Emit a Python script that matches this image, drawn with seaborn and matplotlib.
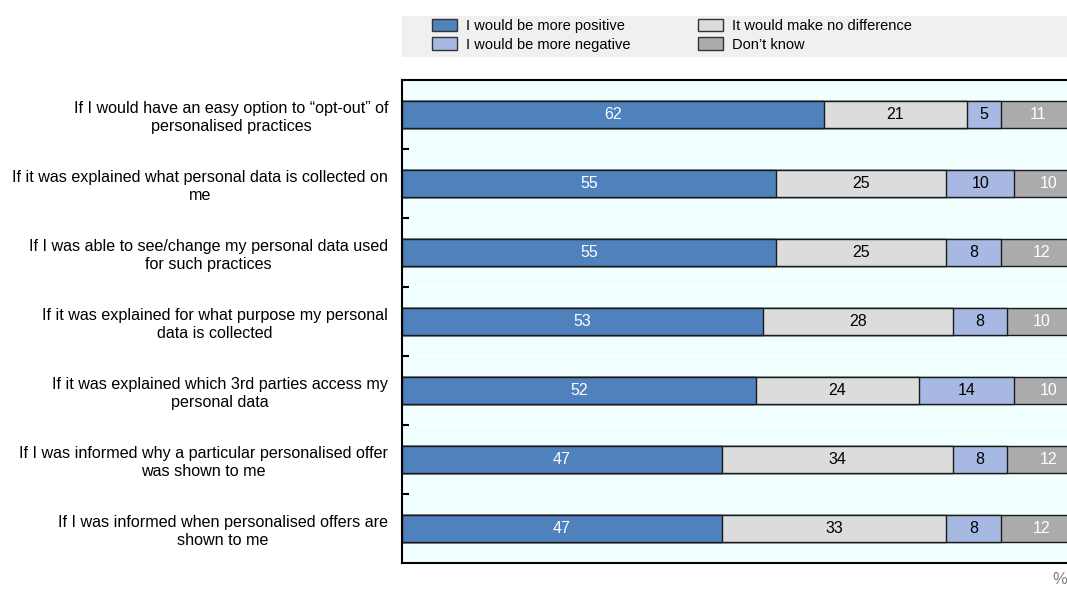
import matplotlib
matplotlib.use("Agg")
import matplotlib.pyplot as plt
from matplotlib.patches import Patch, Rectangle
import numpy as np
import pandas as pd
import seaborn as sns

sns.set_theme(style="white")
plt.rcParams["font.family"] = ["Liberation Sans Narrow", "Liberation Sans", "DejaVu Sans"]
plt.rcParams["text.color"] = "black"
plt.rcParams["ytick.labelcolor"] = "black"

categories = [
    "If I would have an easy option to \u201copt-out\u201d of\npersonalised practices",
    "If it was explained what personal data is collected on\nme",
    "If I was able to see/change my personal data used\nfor such practices",
    "If it was explained for what purpose my personal\ndata is collected",
    "If it was explained which 3rd parties access my\npersonal data",
    "If I was informed why a particular personalised offer\nwas shown to me",
    "If I was informed when personalised offers are\nshown to me",
]
more_positive = [62, 55, 55, 53, 52, 47, 47]
no_difference = [21, 25, 25, 28, 24, 34, 33]
more_negative = [5, 10, 8, 8, 14, 8, 8]
dont_know = [11, 10, 12, 10, 10, 12, 12]

series_names = ["I would be more positive", "It would make no difference",
                "I would be more negative", "Don\u2019t know"]
series_values = [more_positive, no_difference, more_negative, dont_know]
colors = ["#4F81BD", "#DCDCDC", "#A7B9E3", "#ABABAB"]
text_colors = ["white", "black", "black", "white"]

vals = np.array(series_values, dtype=float)
cum = np.cumsum(vals, axis=0)

fig = plt.figure(figsize=(10.67, 5.9), dpi=100)
ax = fig.add_axes([0.3768, 0.0458, 0.6375, 0.8186])
ax.set_facecolor("#F2FFFF")

# stacked bars: draw cumulative totals from the longest down
for i in range(len(series_names) - 1, -1, -1):
    df = pd.DataFrame({"cat": categories, "val": cum[i]})
    sns.barplot(data=df, y="cat", x="val", orient="h", color=colors[i],
                saturation=1, width=0.4, edgecolor="#1a1a1a", linewidth=1.0,
                ax=ax)

# segment value labels
for i in range(len(series_names)):
    for j in range(len(categories)):
        start = cum[i, j] - vals[i, j]
        ax.text(start + vals[i, j] / 2, j, f"{int(vals[i, j])}",
                ha="center", va="center", fontsize=11.5, color=text_colors[i])

n = len(categories)
ax.set_xlim(0, 100)
ax.set_ylim(n - 0.5, -0.5)
ax.set_xlabel("")
ax.set_ylabel("")
ax.set_xticks([])

# faint separators between rows
for b in np.arange(0.5, n - 0.5, 1):
    ax.axhline(b, color="white", lw=1.2, zorder=0)

ax.set_yticks(range(n))
ax.set_yticklabels(categories, fontsize=11.6, ha="right", multialignment="center",
                   color="black")
ax.tick_params(axis="y", which="major", length=0, pad=10)
ax.set_yticks(np.arange(0.5, n - 0.5, 1), minor=True)
ax.tick_params(axis="y", which="minor", length=5, width=1.5, direction="in",
               color="black", left=True)
for lbl in ax.get_yticklabels():
    lbl.set_linespacing(1.25)

for side in ["left", "bottom", "top"]:
    ax.spines[side].set_visible(True)
    ax.spines[side].set_color("black")
    ax.spines[side].set_linewidth(1.5)
ax.spines["right"].set_visible(False)

# legend band
fig.patches.append(Rectangle((402 / 1067, 1 - 57 / 590), 1, 41 / 590,
                             transform=fig.transFigure, facecolor="#F0F0F0",
                             edgecolor="none", zorder=0))
handles = [Patch(facecolor=c, edgecolor="#333333", linewidth=1.0) for c in colors]
leg_kw = dict(frameon=False, fontsize=10.5, handlelength=1.7, handleheight=0.9,
              handletextpad=0.65, labelspacing=0.3, borderaxespad=0, borderpad=0,
              loc="upper left", labelcolor="black")
leg1 = fig.legend([handles[0], handles[2]], [series_names[0], series_names[2]],
                  bbox_to_anchor=(432 / 1067, 1 - 19 / 590), **leg_kw)
leg2 = fig.legend([handles[1], handles[3]], [series_names[1], series_names[3]],
                  bbox_to_anchor=(698 / 1067, 1 - 19 / 590), **leg_kw)

fig.text(1052 / 1067, 1 - 580 / 590, "%", fontsize=12, color="#808080",
         ha="left", va="center")

fig.savefig("out.png", dpi=100)
